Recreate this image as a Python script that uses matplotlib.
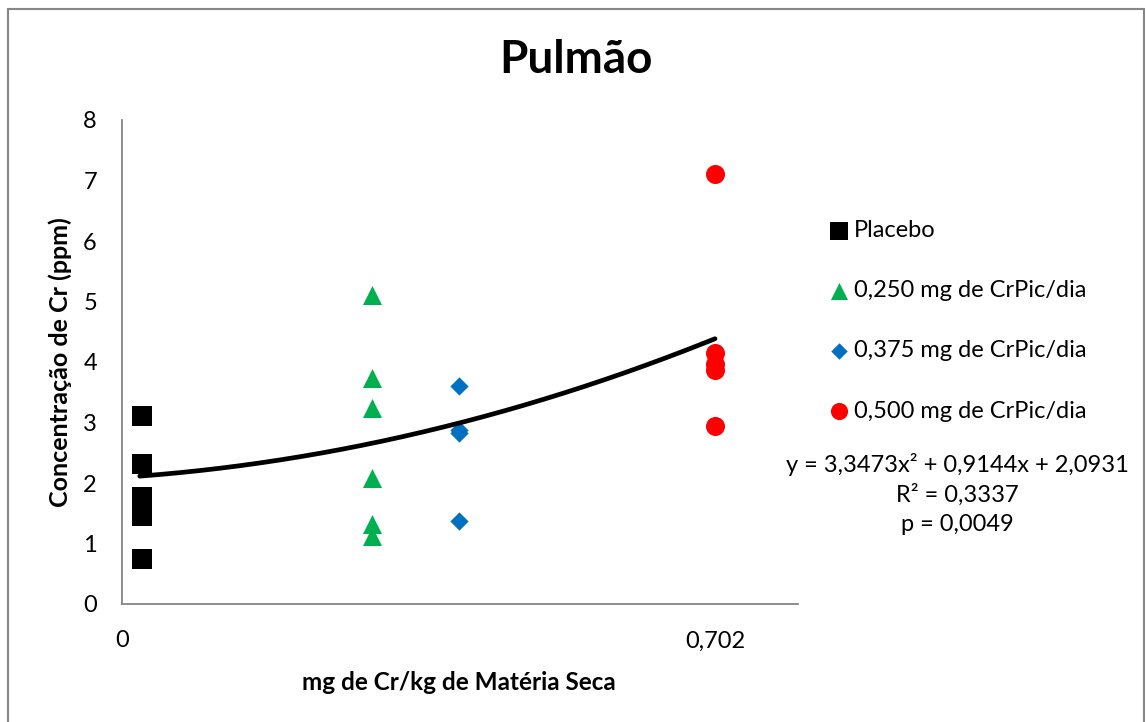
import matplotlib
matplotlib.use("Agg")
import matplotlib.pyplot as plt
import numpy as np
from matplotlib.patches import Rectangle

plt.rcParams['font.family'] = ['Lato', 'DejaVu Sans']

# Data
placebo_x = [0.024, 0.024, 0.024, 0.024, 0.024, 0.024]
placebo_y = [3.11, 2.31, 1.77, 1.62, 1.45, 0.75]
g250_x = [0.296] * 6
g250_y = [5.11, 3.74, 3.24, 2.09, 1.33, 1.13]
g375_x = [0.399] * 4
g375_y = [3.60, 2.88, 2.82, 1.37]
g500_x = [0.702] * 5
g500_y = [7.11, 4.15, 3.97, 3.87, 2.94]

coef = [3.3473, 0.9144, 2.0931]  # quadratic trend: a x^2 + b x + c
x_ticks = [0, 0.702]
x_ticklabels = ["0", "0,702"]
y_ticks = [0, 1, 2, 3, 4, 5, 6, 7, 8]

labels = ["Placebo", "0,250 mg de CrPic/dia", "0,375 mg de CrPic/dia", "0,500 mg de CrPic/dia"]

W, H = 1146, 722
fig = plt.figure(figsize=(W / 100, H / 100), dpi=100)
ax_left, ax_right, ax_top, ax_bot = 122, 797.8, 120, 604
ax = fig.add_axes([ax_left / W, 1 - ax_bot / H, (ax_right - ax_left) / W, (ax_bot - ax_top) / H])

h1 = ax.scatter(placebo_x, placebo_y, marker='s', s=13.7**2, color='black', linewidths=0, zorder=3)
h2 = ax.scatter(g250_x, g250_y, marker='^', s=13.7**2, color='#00B050', linewidths=0, zorder=3)
h3 = ax.scatter(g375_x, g375_y, marker='D', s=9.3**2, color='#0070C0', linewidths=0, zorder=3)
h4 = ax.scatter(g500_x, g500_y, marker='o', s=13.7**2, color='#FF0000', linewidths=0, zorder=3)

all_x = placebo_x + g250_x + g375_x + g500_x
xs = np.linspace(min(all_x) - 0.003, max(all_x), 200)
ys = np.polyval(coef, xs)
ax.plot(xs, ys, color='black', lw=3.4, solid_capstyle='round', zorder=4)

ax.set_xlim(0, 0.8)
ax.set_ylim(0, 8)
ax.set_xticks(x_ticks)
ax.set_xticklabels(x_ticklabels)
ax.set_yticks(y_ticks)
ax.tick_params(axis='both', length=0, labelsize=17, colors='black')
ax.tick_params(axis='x', pad=19)
ax.tick_params(axis='y', pad=18)
for s in ['top', 'right']:
    ax.spines[s].set_visible(False)
for s in ['left', 'bottom']:
    ax.spines[s].set_color('#868686')
    ax.spines[s].set_linewidth(1.3)

fig.text(576 / W, 1 - 60 / H, "Pulmão", ha='center', va='center', fontsize=33, fontweight='bold')
fig.text(459 / W, 1 - 682 / H, "mg de Cr/kg de Matéria Seca", ha='center', va='center', fontsize=17.5, fontweight='bold')
fig.text(60 / W, 1 - 362 / H, "Concentração de Cr (ppm)", ha='center', va='center', rotation=90, fontsize=18, fontweight='bold')

leg = fig.legend([h1, h2, h3, h4], labels, loc='upper left', bbox_to_anchor=(826 / W, 1 - 220 / H),
                 frameon=False, fontsize=17, labelspacing=1.66, handletextpad=0.1, handlelength=1.1,
                 markerscale=0.9, borderaxespad=0, borderpad=0)

fig.text(957 / W, 1 - 494 / H, "y = 3,3473x² + 0,9144x + 2,0931\nR² = 0,3337\np = 0,0049",
         ha='center', va='center', fontsize=17, linespacing=1.45, multialignment='center')

fig.patches.append(Rectangle((8 / W, -0.05), (1144 - 8) / W, 1 - 9 / H + 0.05, transform=fig.transFigure,
                             fill=False, edgecolor='#868686', linewidth=1.5, clip_on=False))

fig.savefig("out.png", dpi=100)
